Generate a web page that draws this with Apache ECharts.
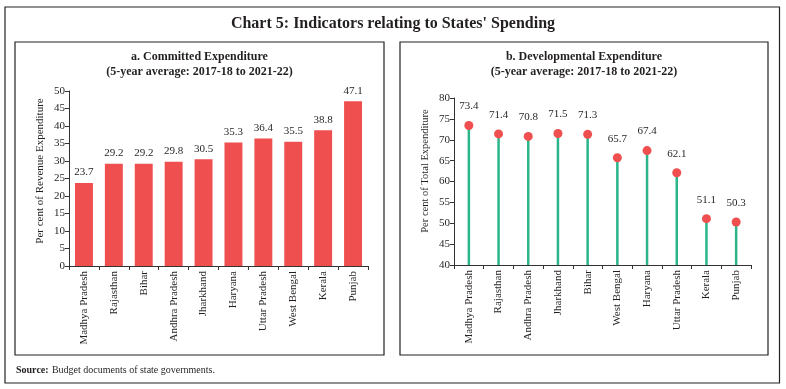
<!DOCTYPE html>
<html>
<head>
<meta charset="utf-8">
<script src="https://cdn.jsdelivr.net/npm/echarts@6/dist/echarts.min.js"></script>
<style>
html,body{margin:0;padding:0;background:#fff;}
#c{width:786px;height:389px;}
</style>
</head>
<body>
<div id="c"></div>
<script>
const committedStates = ['Madhya Pradesh','Rajasthan','Bihar','Andhra Pradesh','Jharkhand','Haryana','Uttar Pradesh','West Bengal','Kerala','Punjab'];
const committedValues = [23.7, 29.2, 29.2, 29.8, 30.5, 35.3, 36.4, 35.5, 38.8, 47.1];
const devStates = ['Madhya Pradesh','Rajasthan','Andhra Pradesh','Jharkhand','Bihar','West Bengal','Haryana','Uttar Pradesh','Kerala','Punjab'];
const devValues = [73.4, 71.4, 70.8, 71.5, 71.3, 65.7, 67.4, 62.1, 51.1, 50.3];

const FONT = '"Liberation Serif", "DejaVu Serif", serif';
const TXT = '#231f20';
const RED = '#EF4F4F';
const GREEN = '#2BB58A';

const chart = echarts.init(document.getElementById('c'), null, {renderer: 'canvas'});

function xAxisCfg(idx, data) {
  return {
    type: 'category', gridIndex: idx, data: data,
    axisLine: {lineStyle: {color: '#333', width: 1}},
    axisTick: {show: true, length: 4, lineStyle: {color: '#333'}},
    axisLabel: {rotate: 90, color: TXT, fontFamily: FONT, fontSize: 11, margin: 5}
  };
}
function yAxisCfg(idx, min, max) {
  return {
    type: 'value', gridIndex: idx, min: min, max: max, interval: 5,
    axisLine: {show: true, lineStyle: {color: '#333', width: 1}},
    axisTick: {show: true, length: 4, lineStyle: {color: '#333'}},
    splitLine: {show: false},
    axisLabel: {color: TXT, fontFamily: FONT, fontSize: 11, margin: 4}
  };
}

chart.setOption({
  animation: false,
  textStyle: {fontFamily: FONT},
  graphic: [
    {type: 'rect', shape: {x: 5, y: 7, width: 774.5, height: 376}, style: {fill: 'none', stroke: '#222', lineWidth: 1.2}},
    {type: 'rect', shape: {x: 15, y: 42, width: 369, height: 313}, style: {fill: 'none', stroke: '#222', lineWidth: 1.2}},
    {type: 'rect', shape: {x: 400, y: 42, width: 368, height: 313}, style: {fill: 'none', stroke: '#222', lineWidth: 1.2}},
    {type: 'text', left: 'center', top: 16, style: {text: "Chart 5: Indicators relating to States' Spending", font: 'bold 16px ' + FONT, fill: TXT}},
    {type: 'text', x: 199.5, y: 49, style: {text: 'a. Committed Expenditure\n(5-year average: 2017-18 to 2021-22)', font: 'bold 12px ' + FONT, fill: TXT, align: 'center', lineHeight: 15}},
    {type: 'text', x: 584, y: 49, style: {text: 'b. Developmental Expenditure\n(5-year average: 2017-18 to 2021-22)', font: 'bold 12px ' + FONT, fill: TXT, align: 'center', lineHeight: 15}},
    {type: 'text', x: 40, y: 171, rotation: Math.PI / 2, style: {text: 'Per cent of Revenue Expenditure', font: '11px ' + FONT, fill: TXT, align: 'center', verticalAlign: 'middle'}},
    {type: 'text', x: 425, y: 171, rotation: Math.PI / 2, style: {text: 'Per cent of Total Expenditure', font: '10.5px ' + FONT, fill: TXT, align: 'center', verticalAlign: 'middle'}},
    {type: 'text', x: 16, y: 364, style: {rich: {b: {font: 'bold 10px ' + FONT, fill: TXT}, n: {font: '10px ' + FONT, fill: TXT}}, text: '{b|Source:} {n|Budget documents of state governments.}'}}
  ],
  grid: [
    {left: 69, top: 91, width: 299, height: 175},
    {left: 454, top: 98, width: 297, height: 167}
  ],
  xAxis: [xAxisCfg(0, committedStates), xAxisCfg(1, devStates)],
  yAxis: [
    yAxisCfg(0, 0, 50),
    yAxisCfg(1, 40, 80)
  ],
  series: [
    {
      type: 'bar', xAxisIndex: 0, yAxisIndex: 0, data: committedValues,
      barWidth: '60%', itemStyle: {color: RED},
      label: {show: true, position: 'top', distance: 5, color: TXT, fontFamily: FONT, fontSize: 11, formatter: p => p.value.toFixed(1)}
    },
    {
      type: 'custom', xAxisIndex: 1, yAxisIndex: 1, data: devValues,
      renderItem: function (params, api) {
        const top = api.coord([api.value(0), api.value(1)]);
        const base = api.coord([api.value(0), 40]);
        return {type: 'line', shape: {x1: top[0], y1: top[1], x2: base[0], y2: base[1]}, style: {stroke: GREEN, lineWidth: 2.5}};
      },
      encode: {x: 0, y: 1},
      z: 2
    },
    {
      type: 'scatter', xAxisIndex: 1, yAxisIndex: 1, data: devValues,
      symbol: 'circle', symbolSize: 9, itemStyle: {color: RED, opacity: 1},
      label: {show: true, position: 'top', distance: 9, color: TXT, fontFamily: FONT, fontSize: 11, formatter: p => p.value.toFixed(1)},
      z: 3
    }
  ]
});
</script>
</body>
</html>
